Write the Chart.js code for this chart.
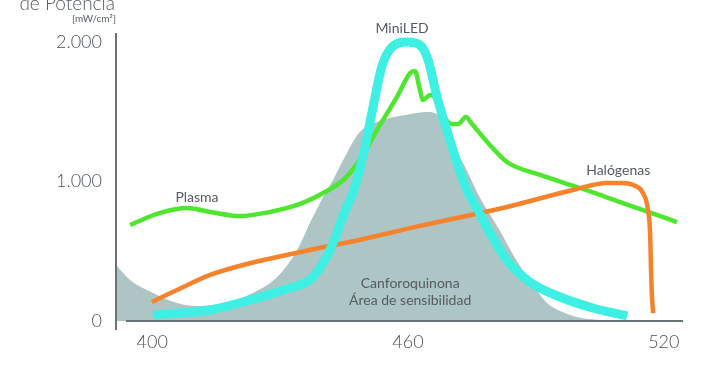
<!DOCTYPE html>
<html><head><meta charset="utf-8">
<script src="https://cdn.jsdelivr.net/npm/chart.js@4/dist/chart.umd.min.js"></script>
<style>html,body{margin:0;padding:0;background:#fff}#wrap{width:710px;height:375px}</style>
</head><body><div id="wrap"><canvas id="c" width="710" height="375"></canvas></div>
<script>
// ---- data (wavelength nm, irradiance mW/cm²) ----
const xTicks = [400, 460, 520];
const yTicks = [0, 1000, 2000];

const canforoWl  = [391.5,394.8,400.2,405.8,410.5,417.5,423.6,429.3,434.0,437.0,440.1,442.4,444.8,448.7,454.1,459.3,464.5,467.5,469.8,473.4,476.9,481.6,485.1,488.6,492.6,495.7,499.6,505.0,510.9];
const canforoVal = [401,294,201,129,107,136,201,315,509,702,888,1010,1153,1354,1440,1476,1497,1461,1311,1103,881,645,451,294,129,72,29,7,0];

const miniledWl  = [400.2,406.5,413.6,422.9,430.7,437.7,441.0,442.9,444.8,447.1,449.4,451.8,453.9,456.5,459.8,462.8,464.7,466.8,469.1,471.5,473.8,476.4,479.2,483.2,488.6,495.7,503.4,511.4];
const miniledVal = [43,57,79,150,222,315,466,595,759,920,1175,1533,1827,1970,1999,1977,1870,1605,1368,1132,938,795,630,437,279,172,93,36];

const plasmaWl  = [394.8,401.8,408.2,413.6,420.6,427.6,434.0,440.1,444.8,448.7,452.7,457.4,460.5,461.6,462.8,463.5,465.2,466.8,468.2,470.3,471.7,473.6,475.0,479.2,483.2,491.0,500.3,510.4,523.1];
const plasmaVal = [688,774,809,781,752,781,831,917,1010,1153,1368,1605,1777,1791,1655,1583,1619,1583,1476,1411,1411,1461,1411,1261,1139,1046,953,845,709];

const halogenWl  = [399.9,405.8,413.6,421.3,429.3,437.0,446.4,462.8,483.2,498.7,506.7,510.2,512.8,515.1,516.3,516.8,517.0,517.2,517.5];
const halogenVal = [136,222,330,401,458,509,566,681,817,938,989,989,974,917,795,616,365,186,57];

const seriesNames = ['MiniLED','Halógenas','Plasma','Canforoquinona'];
const textLabels = [
  {text:'MiniLED', x:458.6, y:2092},
  {text:'Plasma', x:410.5, y:888},
  {text:'Halógenas', x:509.3, y:1075},
  {text:'Canforoquinona', x:460.5, y:272},
  {text:'Área de sensibilidad', x:460.5, y:150}
];

const pts = (xs, ys) => xs.map((x, i) => ({x: x, y: ys[i]}));
const TXT = '#555b5f';
const FONT = 'Lato, "Open Sans", sans-serif';

const decorPlugin = {
  id: 'decor',
  afterDatasetsDraw(chart) {
    const {ctx, chartArea: a, scales: {x, y}} = chart;
    ctx.save();
    ctx.strokeStyle = '#6a7275';
    ctx.lineWidth = 2;
    ctx.beginPath();
    ctx.moveTo(a.left, a.top + 1); ctx.lineTo(a.left, a.bottom + 9);
    ctx.moveTo(a.left + 10, a.bottom); ctx.lineTo(a.right, a.bottom);
    ctx.stroke();
    ctx.fillStyle = TXT;
    ctx.textAlign = 'center';
    ctx.textBaseline = 'middle';
    ctx.font = '400 14px ' + FONT;
    textLabels.forEach(l => ctx.fillText(l.text, x.getPixelForValue(l.x), y.getPixelForValue(l.y)));
    ctx.textAlign = 'right';
    ctx.textBaseline = 'alphabetic';
    ctx.font = '300 19px ' + FONT;
    ctx.fillText('de Potencia', a.left - 1, 10);
    ctx.textBaseline = 'middle';
    ctx.font = '400 10px ' + FONT;
    ctx.fillText('[mW/cm²]', a.left, 19);
    ctx.restore();
  }
};

new Chart(document.getElementById('c'), {
  type: 'line',
  data: {
    datasets: [
      {label: seriesNames[0], data: pts(miniledWl, miniledVal), borderColor: '#3ef0e4', borderWidth: 9, borderCapStyle: 'butt', borderJoinStyle: 'round', fill: false},
      {label: seriesNames[1], data: pts(halogenWl, halogenVal), borderColor: '#f7822c', borderWidth: 4.5, borderCapStyle: 'butt', fill: false},
      {label: seriesNames[2], data: pts(plasmaWl, plasmaVal), borderColor: '#4ee62f', borderWidth: 4.5, borderCapStyle: 'butt', fill: false},
      {label: seriesNames[3], data: pts(canforoWl, canforoVal), borderColor: 'rgba(0,0,0,0)', borderWidth: 0, backgroundColor: '#adc5c5', fill: 'origin'}
    ]
  },
  options: {
    responsive: false,
    animation: false,
    devicePixelRatio: 1,
    layout: {padding: {top: 32, right: 27, bottom: 0, left: 0}},
    elements: {point: {radius: 0}, line: {cubicInterpolationMode: 'monotone'}},
    plugins: {legend: {display: false}, tooltip: {enabled: false}, title: {display: false}},
    scales: {
      x: {
        type: 'linear', min: 391.5, max: 524.5,
        afterBuildTicks: s => { s.ticks = xTicks.map(v => ({value: v})); },
        afterFit: s => { s.height = 54; },
        grid: {display: false, drawTicks: false},
        border: {display: false},
        ticks: {autoSkip: false, maxRotation: 0, padding: 10, color: '#4c5256', font: {family: FONT, size: 18, weight: '300'}, callback: v => String(v)}
      },
      y: {
        type: 'linear', min: 0, max: 2070,
        afterBuildTicks: s => { s.ticks = yTicks.map(v => ({value: v})); },
        afterFit: s => { s.width = 116; },
        grid: {display: false, drawTicks: false},
        border: {display: false},
        ticks: {padding: 14, color: '#4c5256', font: {family: FONT, size: 18, weight: '300'}, callback: v => String(v).replace(/\B(?=(\d{3})+(?!\d))/g, '.')}
      }
    }
  },
  plugins: [decorPlugin]
});
</script>
</body></html>
